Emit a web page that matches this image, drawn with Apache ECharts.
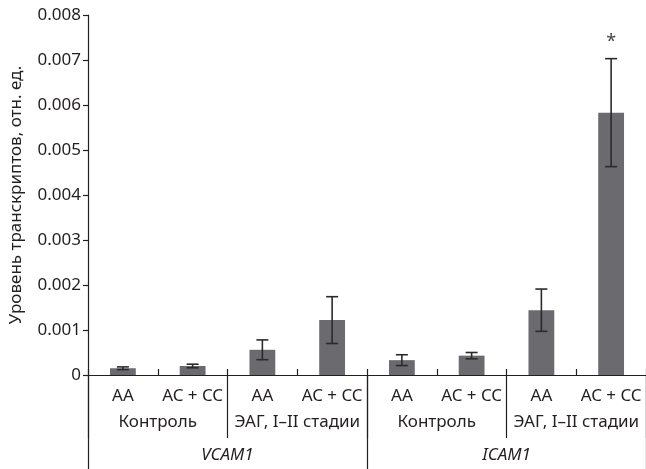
<!DOCTYPE html>
<html>
<head>
<meta charset="utf-8">
<script src="https://cdn.jsdelivr.net/npm/echarts@6/dist/echarts.min.js"></script>
<style>html,body{margin:0;padding:0;background:#fff}#c{width:646px;height:469px}</style>
</head>
<body>
<div id="c"></div>
<script>
var genotypes = ['AA', 'AC + CC', 'AA', 'AC + CC', 'AA', 'AC + CC', 'AA', 'AC + CC'];
var groups = ['Контроль', 'ЭАГ, I–II стадии', 'Контроль', 'ЭАГ, I–II стадии'];
var genes = ['VCAM1', 'ICAM1'];
var means = [0.00015, 0.0002, 0.00056, 0.00122, 0.00033, 0.00043, 0.00144, 0.00583];
var errors = [0.00003, 0.00004, 0.00022, 0.00052, 0.00012, 0.00007, 0.00047, 0.0012];
var marks = ['', '', '', '', '', '', '', '*'];
var yTicks = [0, 0.001, 0.002, 0.003, 0.004, 0.005, 0.006, 0.007, 0.008];

var FONT = '"Noto Sans", sans-serif';
var TXT = '#231f20';
var chart = echarts.init(document.getElementById('c'));
var catIdx = genotypes.map(function (g, i) { return i; });

chart.setOption({
  animation: false,
  grid: { left: 88, right: 0, top: 15, bottom: 94, containLabel: false, outerBoundsMode: 'none' },
  xAxis: [
    {
      type: 'category', data: catIdx, position: 'bottom',
      axisLine: { show: true, lineStyle: { color: TXT, width: 1.2 } },
      axisTick: { show: true, inside: true, length: 6, interval: 0, lineStyle: { color: TXT, width: 1.2 } },
      axisLabel: { interval: 0, margin: 13, color: TXT, fontSize: 17, fontFamily: FONT,
        formatter: function (v) { return genotypes[+v]; } }
    },
    {
      type: 'category', data: groups, position: 'bottom',
      axisLine: { show: false },
      axisTick: { show: true, inside: false, length: 63, interval: 0, lineStyle: { color: TXT, width: 1.2 } },
      axisLabel: { interval: 0, margin: 39, color: TXT, fontSize: 17, fontFamily: FONT }
    },
    {
      type: 'category', data: genes, position: 'bottom',
      axisLine: { show: false },
      axisTick: { show: true, inside: false, length: 100, interval: 0, lineStyle: { color: TXT, width: 1.2 } },
      axisLabel: { interval: 0, margin: 72, color: TXT, fontSize: 17, fontStyle: 'italic', fontFamily: FONT }
    }
  ],
  yAxis: {
    type: 'value', min: 0, max: 0.008, interval: 0.001,
    name: 'Уровень транскриптов, отн. ед.', nameLocation: 'middle', nameGap: 63, nameRotate: 90,
    nameTextStyle: { color: TXT, fontSize: 17, fontFamily: FONT },
    axisLine: { show: true, lineStyle: { color: TXT, width: 1.2 } },
    axisTick: { show: true, inside: false, length: 5, lineStyle: { color: TXT, width: 1.2 } },
    splitLine: { show: false },
    axisLabel: { margin: 7, color: TXT, fontSize: 17, fontFamily: FONT,
      formatter: function (v) { return v === 0 ? '0' : v.toFixed(3); } }
  },
  series: [
    {
      type: 'bar', xAxisIndex: 0, data: means, barWidth: '37%',
      itemStyle: { color: '#6a6a6f' }, z: 2
    },
    {
      type: 'custom', xAxisIndex: 0, z: 3,
      data: means.map(function (m, i) { return [i, m - errors[i], m + errors[i]]; }),
      renderItem: function (params, api) {
        var i = api.value(0);
        var lo = api.coord([i, api.value(1)]);
        var hi = api.coord([i, api.value(2)]);
        var hw = 6;
        var st = { stroke: '#2b2b2b', lineWidth: 1.6 };
        var children = [
          { type: 'line', shape: { x1: hi[0], y1: hi[1], x2: lo[0], y2: lo[1] }, style: st },
          { type: 'line', shape: { x1: hi[0] - hw, y1: hi[1], x2: hi[0] + hw, y2: hi[1] }, style: st },
          { type: 'line', shape: { x1: lo[0] - hw, y1: lo[1], x2: lo[0] + hw, y2: lo[1] }, style: st }
        ];
        if (marks[params.dataIndex]) {
          children.push({ type: 'text', x: hi[0], y: hi[1] - 17,
            style: { text: marks[params.dataIndex], fill: '#444', font: '18px ' + FONT, align: 'center', verticalAlign: 'middle' } });
        }
        return { type: 'group', children: children };
      }
    }
  ]
});
</script>
</body>
</html>
